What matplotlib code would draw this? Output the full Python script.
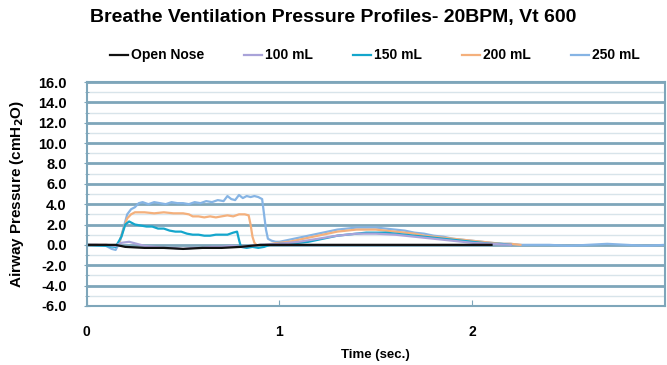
import matplotlib
matplotlib.use('Agg')
import matplotlib.pyplot as plt
from matplotlib.ticker import MultipleLocator, FormatStrFormatter

plt.rcParams['font.family'] = ['Liberation Sans', 'DejaVu Sans']
plt.rcParams['font.weight'] = 'bold'

# ---- data ----
t_open = [0.00, 0.15, 0.20, 0.30, 0.40, 0.50, 0.60, 0.70, 0.80, 0.85, 0.90,
          1.00, 1.20, 1.40, 1.60, 1.80, 2.00, 2.10]
p_open = [0.0, 0.0, -0.2, -0.3, -0.3, -0.4, -0.3, -0.3, -0.2, -0.1, 0.0,
          0.0, 0.0, 0.0, 0.0, 0.0, 0.0, 0.0]

t_100 = [0.00, 0.10, 0.15, 0.18, 0.22, 0.26, 0.30, 0.35, 0.40, 0.45, 0.50,
         0.55, 0.60, 0.65, 0.70, 0.75, 0.80, 0.85, 0.90, 1.00, 1.10, 1.20,
         1.30, 1.40, 1.50, 1.60, 1.70, 1.80, 1.90, 2.00, 2.10, 2.20]
p_100 = [0.0, 0.0, -0.1, 0.2, 0.3, 0.1, -0.1, -0.2, -0.3, -0.3, -0.4,
         -0.3, -0.3, -0.2, -0.2, -0.1, -0.2, -0.1, 0.0, 0.1, 0.3, 0.6,
         0.9, 1.1, 1.1, 1.0, 0.8, 0.6, 0.4, 0.2, 0.1, 0.0]

t_150 = [0.00, 0.10, 0.15, 0.18, 0.20, 0.22, 0.25, 0.28, 0.31, 0.34, 0.37,
         0.40, 0.43, 0.46, 0.49, 0.52, 0.55, 0.58, 0.61, 0.64, 0.67, 0.70,
         0.73, 0.76, 0.78, 0.79, 0.80, 0.83, 0.86, 0.89, 0.92, 0.95, 1.00,
         1.05, 1.10, 1.15, 1.20, 1.25, 1.30, 1.35, 1.40, 1.45, 1.50, 1.55,
         1.60, 1.65, 1.70, 1.75, 1.80, 1.85, 1.90, 1.95, 2.00, 2.05, 2.10,
         2.15, 2.20]
p_150 = [0.0, -0.1, -0.2, 0.8, 2.0, 2.3, 2.0, 1.9, 1.8, 1.8, 1.6,
         1.6, 1.4, 1.3, 1.3, 1.1, 1.0, 1.0, 0.9, 0.9, 1.0, 1.0,
         1.0, 1.2, 1.3, 0.5, -0.2, -0.3, -0.2, -0.3, -0.2, 0.0, 0.1,
         0.1, 0.2, 0.3, 0.5, 0.7, 0.9, 1.0, 1.1, 1.2, 1.2, 1.2,
         1.1, 1.0, 0.9, 0.8, 0.7, 0.6, 0.5, 0.4, 0.3, 0.2, 0.1,
         0.1, 0.0]

t_200 = [0.00, 0.10, 0.15, 0.17, 0.19, 0.21, 0.23, 0.25, 0.30, 0.35, 0.40,
         0.45, 0.50, 0.53, 0.55, 0.58, 0.61, 0.64, 0.67, 0.70, 0.73, 0.76,
         0.79, 0.82, 0.84, 0.85, 0.86, 0.87, 0.88, 0.90, 0.93, 0.96, 1.00,
         1.05, 1.10, 1.15, 1.20, 1.25, 1.30, 1.35, 1.40, 1.45, 1.50, 1.55,
         1.60, 1.65, 1.70, 1.75, 1.80, 1.85, 1.90, 1.95, 2.00, 2.05, 2.10,
         2.15, 2.20, 2.25]
p_200 = [0.0, 0.0, -0.1, 0.3, 1.5, 2.6, 3.0, 3.2, 3.2, 3.1, 3.2,
         3.1, 3.1, 3.0, 2.8, 2.8, 2.7, 2.8, 2.7, 2.8, 2.9, 2.8,
         3.0, 3.0, 2.9, 2.0, 0.8, 0.2, 0.0, -0.1, 0.0, 0.1, 0.2,
         0.3, 0.5, 0.7, 0.9, 1.1, 1.3, 1.4, 1.5, 1.5, 1.5, 1.4,
         1.3, 1.2, 1.1, 0.9, 0.8, 0.7, 0.6, 0.5, 0.4, 0.3, 0.2,
         0.1, 0.1, 0.0]

t_250 = [0.00, 0.05, 0.10, 0.13, 0.15, 0.17, 0.19, 0.21, 0.23, 0.25, 0.27,
         0.29, 0.32, 0.35, 0.38, 0.41, 0.44, 0.47, 0.50, 0.53, 0.56, 0.59,
         0.62, 0.65, 0.68, 0.71, 0.73, 0.75, 0.77, 0.79, 0.81, 0.83, 0.85,
         0.87, 0.89, 0.91, 0.92, 0.93, 0.94, 0.96, 0.98, 1.00, 1.05, 1.10,
         1.15, 1.20, 1.25, 1.30, 1.35, 1.40, 1.45, 1.50, 1.55, 1.60, 1.65,
         1.70, 1.75, 1.80, 1.85, 1.90, 1.95, 2.00, 2.05, 2.10, 2.15, 2.20,
         2.25, 2.30, 2.40, 2.50, 2.60, 2.70, 2.80, 2.90, 3.00]
p_250 = [0.0, 0.0, -0.1, -0.4, -0.5, 0.2, 1.6, 3.0, 3.5, 3.7, 4.1,
         4.2, 4.0, 4.2, 4.1, 4.0, 4.2, 4.1, 4.1, 4.0, 4.2, 4.1,
         4.3, 4.2, 4.4, 4.3, 4.8, 4.5, 4.4, 4.9, 4.6, 4.8, 4.7,
         4.8, 4.7, 4.5, 3.0, 1.5, 0.6, 0.4, 0.3, 0.3, 0.5, 0.7,
         0.9, 1.1, 1.3, 1.5, 1.6, 1.7, 1.7, 1.7, 1.6, 1.5, 1.4,
         1.2, 1.1, 0.9, 0.8, 0.6, 0.5, 0.4, 0.3, 0.2, 0.1, 0.1,
         0.0, 0.0, 0.0, -0.1, 0.0, 0.1, 0.0, -0.1, 0.0]

x_ticks = [0, 1, 2]
x_tick_labels = ['0', '1', '2']

series = [
    ('Open Nose', t_open, p_open, '#111111'),
    ('100 mL', t_100, p_100, '#a9a3d9'),
    ('150 mL', t_150, p_150, '#14a6cc'),
    ('200 mL', t_200, p_200, '#f4b07c'),
    ('250 mL', t_250, p_250, '#86b4e4'),
]

fig = plt.figure(figsize=(6.67, 3.65), dpi=100)
ax = fig.add_axes([0.130, 0.162, 0.867, 0.613])

grid_col = '#7ea6ba'
ax.set_xlim(0, 3)
ax.set_ylim(-6, 16)
ax.yaxis.set_major_locator(MultipleLocator(2))
ax.yaxis.set_minor_locator(MultipleLocator(1))
ax.yaxis.set_major_formatter(FormatStrFormatter('%.1f'))
ax.set_xticks(x_ticks)
ax.set_xticklabels(x_tick_labels)
ax.grid(axis='y', which='major', color=grid_col, lw=2.0, zorder=0)
ax.grid(axis='y', which='minor', color='#d8e4ea', lw=1.0, zorder=0)
ax.set_axisbelow(True)

for name, t, p, c in series[::-1]:
    ax.plot(t, p, color=c, lw=1.6, label=name)

for s in ['left', 'right', 'top', 'bottom']:
    ax.spines[s].set_color(grid_col)
    ax.spines[s].set_linewidth(1.5)
ax.tick_params(axis='y', which='both', color=grid_col, direction='inout', labelsize=10.5,
               length=5, pad=12)
ax.tick_params(axis='y', which='minor', length=3)
ax.tick_params(axis='x', color=grid_col, direction='in', labelsize=10, pad=14, length=4)
for lbl in ax.get_xticklabels() + ax.get_yticklabels():
    lbl.set_fontweight('bold')

ax.set_xlabel('Time (sec.)', fontsize=9.5, fontweight='bold', va='center')
ax.xaxis.set_label_coords(0.5, -0.219)
ax.set_ylabel('Airway Pressure (cmH$_2$O)', fontsize=11, fontweight='bold', va='center')
ax.yaxis.set_label_coords(-0.121, 0.5)

fig.suptitle('Breathe Ventilation Pressure Profiles- 20BPM, Vt 600', x=0.50, y=0.975,
             fontsize=14, fontweight='bold')

handles, labels = ax.get_legend_handles_labels()
fig.legend(handles[::-1], labels[::-1], loc='center', bbox_to_anchor=(0.562, 0.848), ncol=5,
           frameon=False, handlelength=1.3, handletextpad=0.2,
           columnspacing=2.9, prop={'weight': 'bold', 'size': 10})

fig.savefig('out.png', dpi=100)
